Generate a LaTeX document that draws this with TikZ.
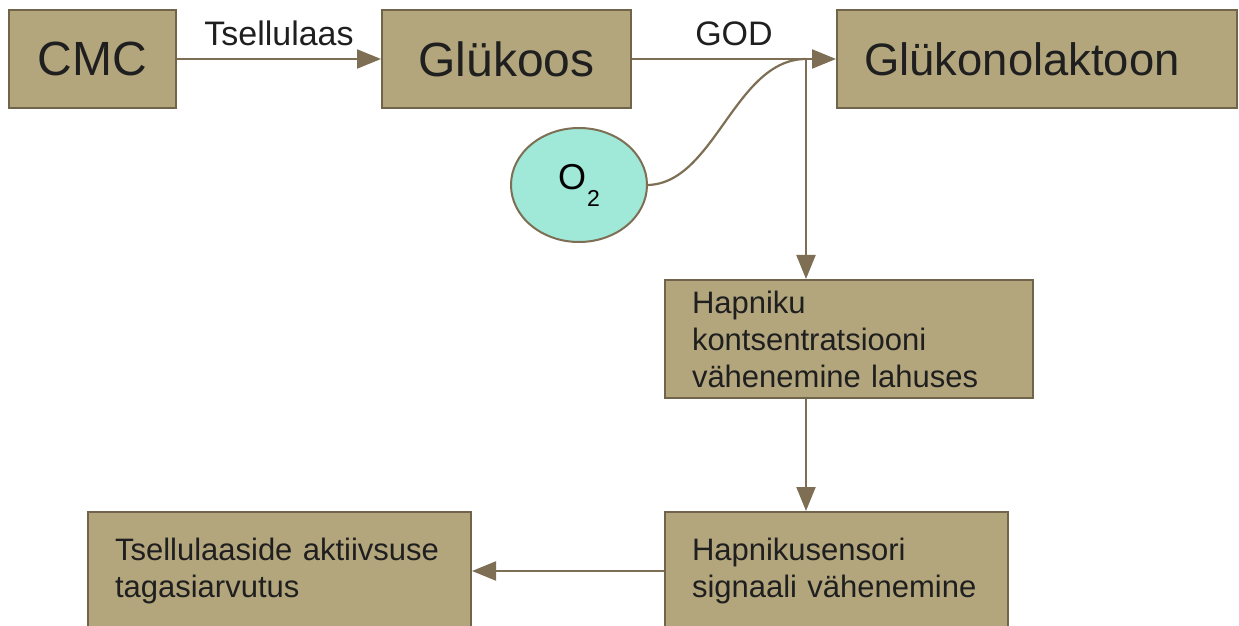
\documentclass[tikz,border=0pt]{standalone}
\usepackage{fontspec}
\setmainfont{Liberation Sans}
\usetikzlibrary{shapes.geometric,arrows.meta}

\definecolor{boxfill}{RGB}{179,166,125}
\definecolor{boxline}{RGB}{112,100,74}
\definecolor{arrowc}{RGB}{125,110,84}
\definecolor{gasfill}{RGB}{160,232,216}

\tikzset{
	box/.style={draw=boxline, fill=boxfill, line width=1pt, rectangle, text=black!88},
	bigbox/.style={box, minimum height=49pt, inner sep=0pt, font=\fontsize{24}{28}\selectfont},
	textbox/.style={box, align=left, inner xsep=13.5pt, inner ysep=0pt, minimum height=59pt, font=\fontsize{15.5}{18.5}\selectfont},
	flow/.style={draw=arrowc, line width=1.1pt, -{Triangle[length=12pt,width=9.5pt]}},
	lbl/.style={inner sep=0pt, font=\fontsize{17}{20}\selectfont, text=black!88}
}

\begin{document}
\begin{tikzpicture}[x=0.5pt, y=-0.5pt]
		
		\useasboundingbox (0,0) rectangle (1239,626);
		
		% reaction row
		\node[bigbox, minimum width=83.5pt] (cmc) at (92.5,59) {CMC};
		\node[bigbox, minimum width=124.5pt] (glc) at (506.5,59) {Glükoos};
		\node[bigbox, minimum width=200pt, font=\fontsize{22.7}{26}\selectfont] (glcl) at (1037,59) {\hspace{-15pt}Glükonolaktoon};
		
		\node[ellipse, draw=arrowc, fill=gasfill, line width=1pt, minimum width=68pt, minimum height=57pt, font=\fontsize{18}{20}\selectfont] (oxy) at (579,185) {O\hspace{0.5pt}\raisebox{-8.5pt}{\fontsize{11.5}{11.5}\selectfont 2}};
		
		% measurement chain
		\node[textbox, text width=157pt] (drop) at (849,339) {Hapniku\\kontsentratsiooni\\vähenemine lahuses};
		\node[textbox, text width=144.5pt] (sens) at (836.5,571) {Hapnikusensori\\signaali vähenemine};
		\node[textbox, text width=164.5pt] (calc) at (279.5,571) {Tsellulaaside aktiivsuse\\tagasiarvutus};
		
		\coordinate (jn) at (806,59);
		
		\draw[flow] (cmc) -- node[lbl, midway, above=6pt] {Tsellulaas} (glc);
		\draw[flow] (glc) -- node[lbl, midway, above=6pt] {GOD} (glcl);
		\draw[draw=arrowc, line width=1.1pt] (oxy.east) .. controls (715,183) and (735,59) .. (jn);
		\draw[flow] (jn) -- (jn |- drop.north);
		\draw[flow] (drop.south -| jn) -- (sens.north -| jn);
		\draw[flow] (sens.west) -- (calc.east);
		
	\end{tikzpicture}
\end{document}
